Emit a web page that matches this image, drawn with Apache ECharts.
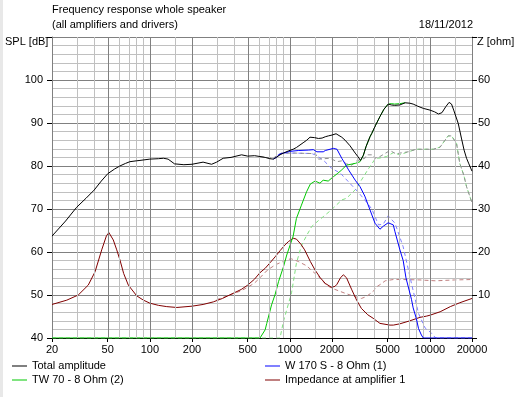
<!DOCTYPE html>
<html><head><meta charset="utf-8">
<script src="https://cdn.jsdelivr.net/npm/echarts@6/dist/echarts.min.js"></script>
<style>html,body{margin:0;padding:0;background:#fff}#c{width:520px;height:397px}</style>
</head><body><div id="c"></div>
<script>
// ---- data ----
const xTickLabels = [20,50,100,200,500,1000,2000,5000,10000,20000];
const gridMajorFreq = [50,100,200,500,1000,2000,5000,10000];
const gridMinorFreq = [30,40,60,70,80,90,150,300,400,600,700,800,900,1500,3000,4000,6000,7000,8000,9000,15000];

const totalFreq = [20,25,30,35,40,45,50,56,61,67,72,80,85,100,115,125,135,150,175,200,240,276,300,334,380,452,500,560,612,666,720,761,800,851,900,975,1056,1114,1244,1320,1393,1500,1600,1700,1790,1884,2000,2138,2348,2480,2690,2930,3060,3200,3350,3500,3736,3850,4100,4400,4700,5040,5300,5600,6112,6650,7200,7600,8200,8980,9260,10020,10800,11520,12200,13000,13720,14280,14800,15950,16800,17560,18280,19000,20000];
const totalSpl = [63.7,67.2,70.4,72.5,74.4,76.5,78.2,79.3,80.0,80.6,81.0,81.2,81.3,81.6,81.7,81.8,81.6,80.5,80.3,80.4,80.9,80.4,80.9,81.8,82.0,82.6,82.3,82.4,82.2,82.0,81.7,81.6,82.0,82.6,83.0,83.5,83.9,84.3,85.4,86.0,86.7,86.6,86.4,86.5,86.8,87.0,87.2,87.5,86.7,86.0,84.7,83.0,82.2,81.3,82.5,84.5,86.8,87.6,89.5,91.5,93.2,94.4,94.2,94.1,94.2,94.7,94.6,94.4,93.9,93.4,93.2,93.0,92.6,92.1,92.4,93.8,94.8,94.4,93.0,89.9,86.5,83.7,81.8,80.5,78.8];

// woofer: below ~760 Hz it coincides with (and is hidden by) the total curve
const wooferFreq = [761,800,851,920,1000,1148,1354,1472,1560,1732,1790,2044,2170,2348,2410,2626,2930,3170,3430,3736,4056,4400,4650,5040,5480,5636,6110,6450,6750,7390,7600,8010,8300,8700,8980,20000];
const wooferSpl = [81.6,82.0,82.8,83.1,83.4,83.6,83.7,83.8,83.3,83.3,83.6,84.1,83.9,81.8,81.2,79.1,76.7,75.2,73.0,69.8,66.7,65.3,66.0,66.8,66.3,64.7,60.5,58.0,54.0,49.0,47.0,44.5,42.2,40.7,40.0,40.0];

// tweeter: above ~6.6 kHz it coincides with (and is hidden by) the total curve
const tweeterFreq = [20,612,666,684,740,786,830,899,950,1056,1114,1210,1316,1400,1514,1640,1730,1880,2044,2200,2348,2540,2930,3170,3350,3500,3736,3850,4100,4400,4700,5040,5300,5600,6112,6650];
const tweeterSpl = [40,40,41.9,43.4,47.7,50.2,53.1,56.5,59.3,63.7,67.8,70.9,74.0,75.8,76.5,76.0,76.7,76.5,77.5,78.3,79.1,80.2,80.6,81.0,82.5,84.5,86.8,87.6,89.5,91.5,93.2,94.4,94.5,94.4,94.5,94.7];

const impFreq = [20,25.5,30.8,36.3,40.6,45.3,49,51,54.8,58,61.2,65,70.2,80.6,90,100,115,132,156,200,240,284,330,394,450,500,560,612,666,722,786,851,920,975,1056,1114,1148,1200,1275,1400,1514,1650,1790,1980,2100,2170,2300,2410,2480,2540,2770,3000,3240,3600,3930,4400,5190,5484,6110,7200,8500,9500,10020,11840,14000,16360,20000];
const impOhm = [7.8,8.8,10.0,12.3,15.4,20.5,23.8,24.5,22.8,20.5,18.1,15.0,12.3,9.8,8.8,8.1,7.6,7.3,7.1,7.4,7.8,8.4,9.2,10.4,11.3,12.3,13.7,15.2,16.2,17.5,18.9,20.3,21.6,22.4,23.2,23.0,22.8,21.8,20.5,17.8,15.8,14.0,12.7,11.8,12.0,12.5,14.0,14.7,14.6,14.0,11.2,8.8,6.9,5.4,4.6,3.4,3.0,3.0,3.3,4.0,4.8,5.1,5.3,6.1,7.3,8.2,9.2];

// dashed (reference) curves
const totalRefFreq = [612,666,761,820,870,1080,1430,1514,1600,1640,1940,2170,2350,2540,2770,3000,3430,3536,3930,4056,4400,5188,5750,6110,7000,8010,10600,11840,12200,13500,14280,15500,16360,17500,18280,19500,20000];
const totalRefSpl = [82.2,82.0,81.8,82.6,83.0,83.0,82.9,83.0,81.6,81.8,81.8,81.0,81.2,80.5,80.2,81.2,81.8,82.6,82.6,81.8,82.2,83.6,82.8,83.0,83.3,83.9,83.9,84.4,84.5,87.0,87.0,85.3,80.6,77.8,75.2,72.5,71.5];
const wooferRefFreq = [820,870,1080,1430,1514,1730,1980,2300,2626,3060,3430,3850,4300,4650,5040,5636,6450,7390,8300,9260,10300,11000,20000];
const wooferRefSpl = [82.6,83.0,83.0,82.9,82.6,81.4,79.5,78.3,76.3,74.0,72.1,70.0,66.3,66.5,68.4,66.7,61.2,52.7,45.7,42.3,41.1,40.0,40.0];
const tweeterRefFreq = [20,851,899,1028,1114,1210,1316,1430,1600,1730,1980,2348,2540,2770,3000,3240,3600,4056,4300,4900,5480,6110,7000,8010,10600,11840,12200,13500,14280,15500,16360,17500,18280,19500,20000];
const tweeterRefSpl = [40,40,43.8,50.5,57.4,61.5,63.8,65.9,67.3,68.2,69.8,72.1,72.5,73.7,74.8,76.7,79.1,81.6,81.8,82.2,83.1,82.6,83.3,83.9,83.9,84.4,84.5,87.0,87.0,85.3,80.6,77.8,75.2,72.5,71.5];
const impRefFreq = [300,394,450,500,560,612,666,722,786,851,975,1028,1148,1316,1514,1600,1732,1830,2100,2480,2930,3240,3500,3930,4160,4400,4800,5480,6450,8500,11000,15000,20000];
const impRefOhm = [8.9,10.3,11.0,11.8,12.8,14.0,15.3,16.2,17.0,17.5,18.3,18.4,17.8,16.8,15.0,14.3,13.1,12.2,11.3,10.4,9.6,9.2,9.6,10.8,11.9,12.4,13.3,13.6,13.6,13.5,13.3,13.5,13.6];

// ---- chart ----
const FONT = '"Liberation Sans", Arial, sans-serif';
const lg = f => Math.log10(f);
const pts = (fs, vs) => fs.map((f, i) => [lg(f), vs[i]]);
function line(name, fs, vs, color, opts) {
  opts = opts || {};
  return {
    name: name, type: 'line', data: pts(fs, vs), color: color,
    showSymbol: false, symbol: 'none', animation: false, silent: true,
    lineStyle: { color: color, width: 1, type: opts.dash ? [4, 3] : 'solid' },
    yAxisIndex: opts.right ? 1 : 0, z: opts.z || 3
  };
}
function gridLines(freqs, color, z) {
  return {
    type: 'line', data: [], silent: true, animation: false, z: z,
    markLine: {
      silent: true, animation: false, symbol: ['none', 'none'],
      label: { show: false }, emphasis: { disabled: true },
      lineStyle: { color: color, width: 1, type: 'solid' },
      data: freqs.map(f => ({ xAxis: lg(f) }))
    }
  };
}

const chart = echarts.init(document.getElementById('c'), null, { renderer: 'canvas' });
chart.setOption({
  backgroundColor: '#fff',
  animation: false,
  textStyle: { fontFamily: FONT },
  grid: { left: 52, right: 48, top: 37, bottom: 59, containLabel: false },
  xAxis: {
    type: 'value', min: lg(20), max: lg(20000),
    axisLine: { show: true, lineStyle: { color: '#000' } },
    axisTick: { show: true, length: 4, customValues: xTickLabels.map(lg), lineStyle: { color: '#000' } },
    axisLabel: {
      customValues: xTickLabels.map(lg), margin: 6, color: '#000', fontSize: 11, fontFamily: FONT,
      formatter: v => String(Math.round(Math.pow(10, v)))
    },
    splitLine: { show: false }
  },
  yAxis: [{
    type: 'value', min: 40, max: 110, interval: 10, position: 'left',
    axisLine: { show: true, lineStyle: { color: '#808080' } },
    axisTick: { show: true, length: 5, lineStyle: { color: '#000' } },
    axisLabel: { margin: 9, color: '#000', fontSize: 11, fontFamily: FONT, formatter: v => v === 110 ? '' : String(v) },
    splitLine: { show: true, lineStyle: { color: '#808080', width: 1 } },
    minorTick: { show: false, splitNumber: 5 },
    minorSplitLine: { show: true, lineStyle: { color: '#c0c0c0', width: 1 } }
  }, {
    type: 'value', min: 0, max: 70, interval: 10, position: 'right',
    axisLine: { show: true, lineStyle: { color: '#808080' } },
    axisTick: { show: true, length: 5, lineStyle: { color: '#000' } },
    axisLabel: { margin: 6, color: '#000', fontSize: 11, fontFamily: FONT, formatter: v => (v === 0 || v === 70) ? '' : String(v) },
    splitLine: { show: false }
  }],
  legend: [{
    left: 12, top: 359, orient: 'vertical', padding: 0, itemGap: 0, itemWidth: 15, itemHeight: 1,
    icon: 'rect', selectedMode: false,
    textStyle: { fontFamily: FONT, fontSize: 11, color: '#000', lineHeight: 14 },
    data: ['Total amplitude', 'TW 70 - 8 Ohm (2)']
  }, {
    left: 265, top: 359, orient: 'vertical', padding: 0, itemGap: 0, itemWidth: 15, itemHeight: 1,
    icon: 'rect', selectedMode: false,
    textStyle: { fontFamily: FONT, fontSize: 11, color: '#000', lineHeight: 14 },
    data: ['W 170 S - 8 Ohm (1)', 'Impedance at amplifier 1']
  }],
  graphic: [
    { type: 'rect', shape: { x: 0, y: 0, width: 3, height: 397 }, style: { fill: '#e8e8e8' }, silent: true },
    { type: 'text', x: 52, y: 10, style: { text: 'Frequency response whole speaker', font: '11px ' + FONT, fill: '#000', align: 'left', verticalAlign: 'middle' } },
    { type: 'text', x: 52, y: 25, style: { text: '(all amplifiers and drivers)', font: '11px ' + FONT, fill: '#000', align: 'left', verticalAlign: 'middle' } },
    { type: 'text', x: 473, y: 25, style: { text: '18/11/2012', font: '11px ' + FONT, fill: '#000', align: 'right', verticalAlign: 'middle' } },
    { type: 'text', x: 5, y: 42, style: { text: 'SPL [dB]', font: '11px ' + FONT, fill: '#000', align: 'left', verticalAlign: 'middle' } },
    { type: 'text', x: 477, y: 42, style: { text: 'Z [ohm]', font: '11px ' + FONT, fill: '#000', align: 'left', verticalAlign: 'middle' } }
  ],
  series: [
    gridLines(gridMinorFreq, '#c0c0c0', 0),
    gridLines(gridMajorFreq, '#808080', 1),
    line('impRef', impRefFreq, impRefOhm, '#c08080', { dash: true, right: true, z: 2 }),
    line('tweeterRef', tweeterRefFreq, tweeterRefSpl, '#80e080', { dash: true, z: 2 }),
    line('wooferRef', wooferRefFreq, wooferRefSpl, '#8080ff', { dash: true, z: 2 }),
    line('totalRef', totalRefFreq, totalRefSpl, '#909090', { dash: true, z: 2 }),
    line('Impedance at amplifier 1', impFreq, impOhm, '#800000', { right: true, z: 3 }),
    line('TW 70 - 8 Ohm (2)', tweeterFreq, tweeterSpl, '#00c800', { z: 4 }),
    line('W 170 S - 8 Ohm (1)', wooferFreq, wooferSpl, '#0000ff', { z: 5 }),
    line('Total amplitude', totalFreq, totalSpl, '#000000', { z: 6 })
  ]
});
</script>
</body></html>
